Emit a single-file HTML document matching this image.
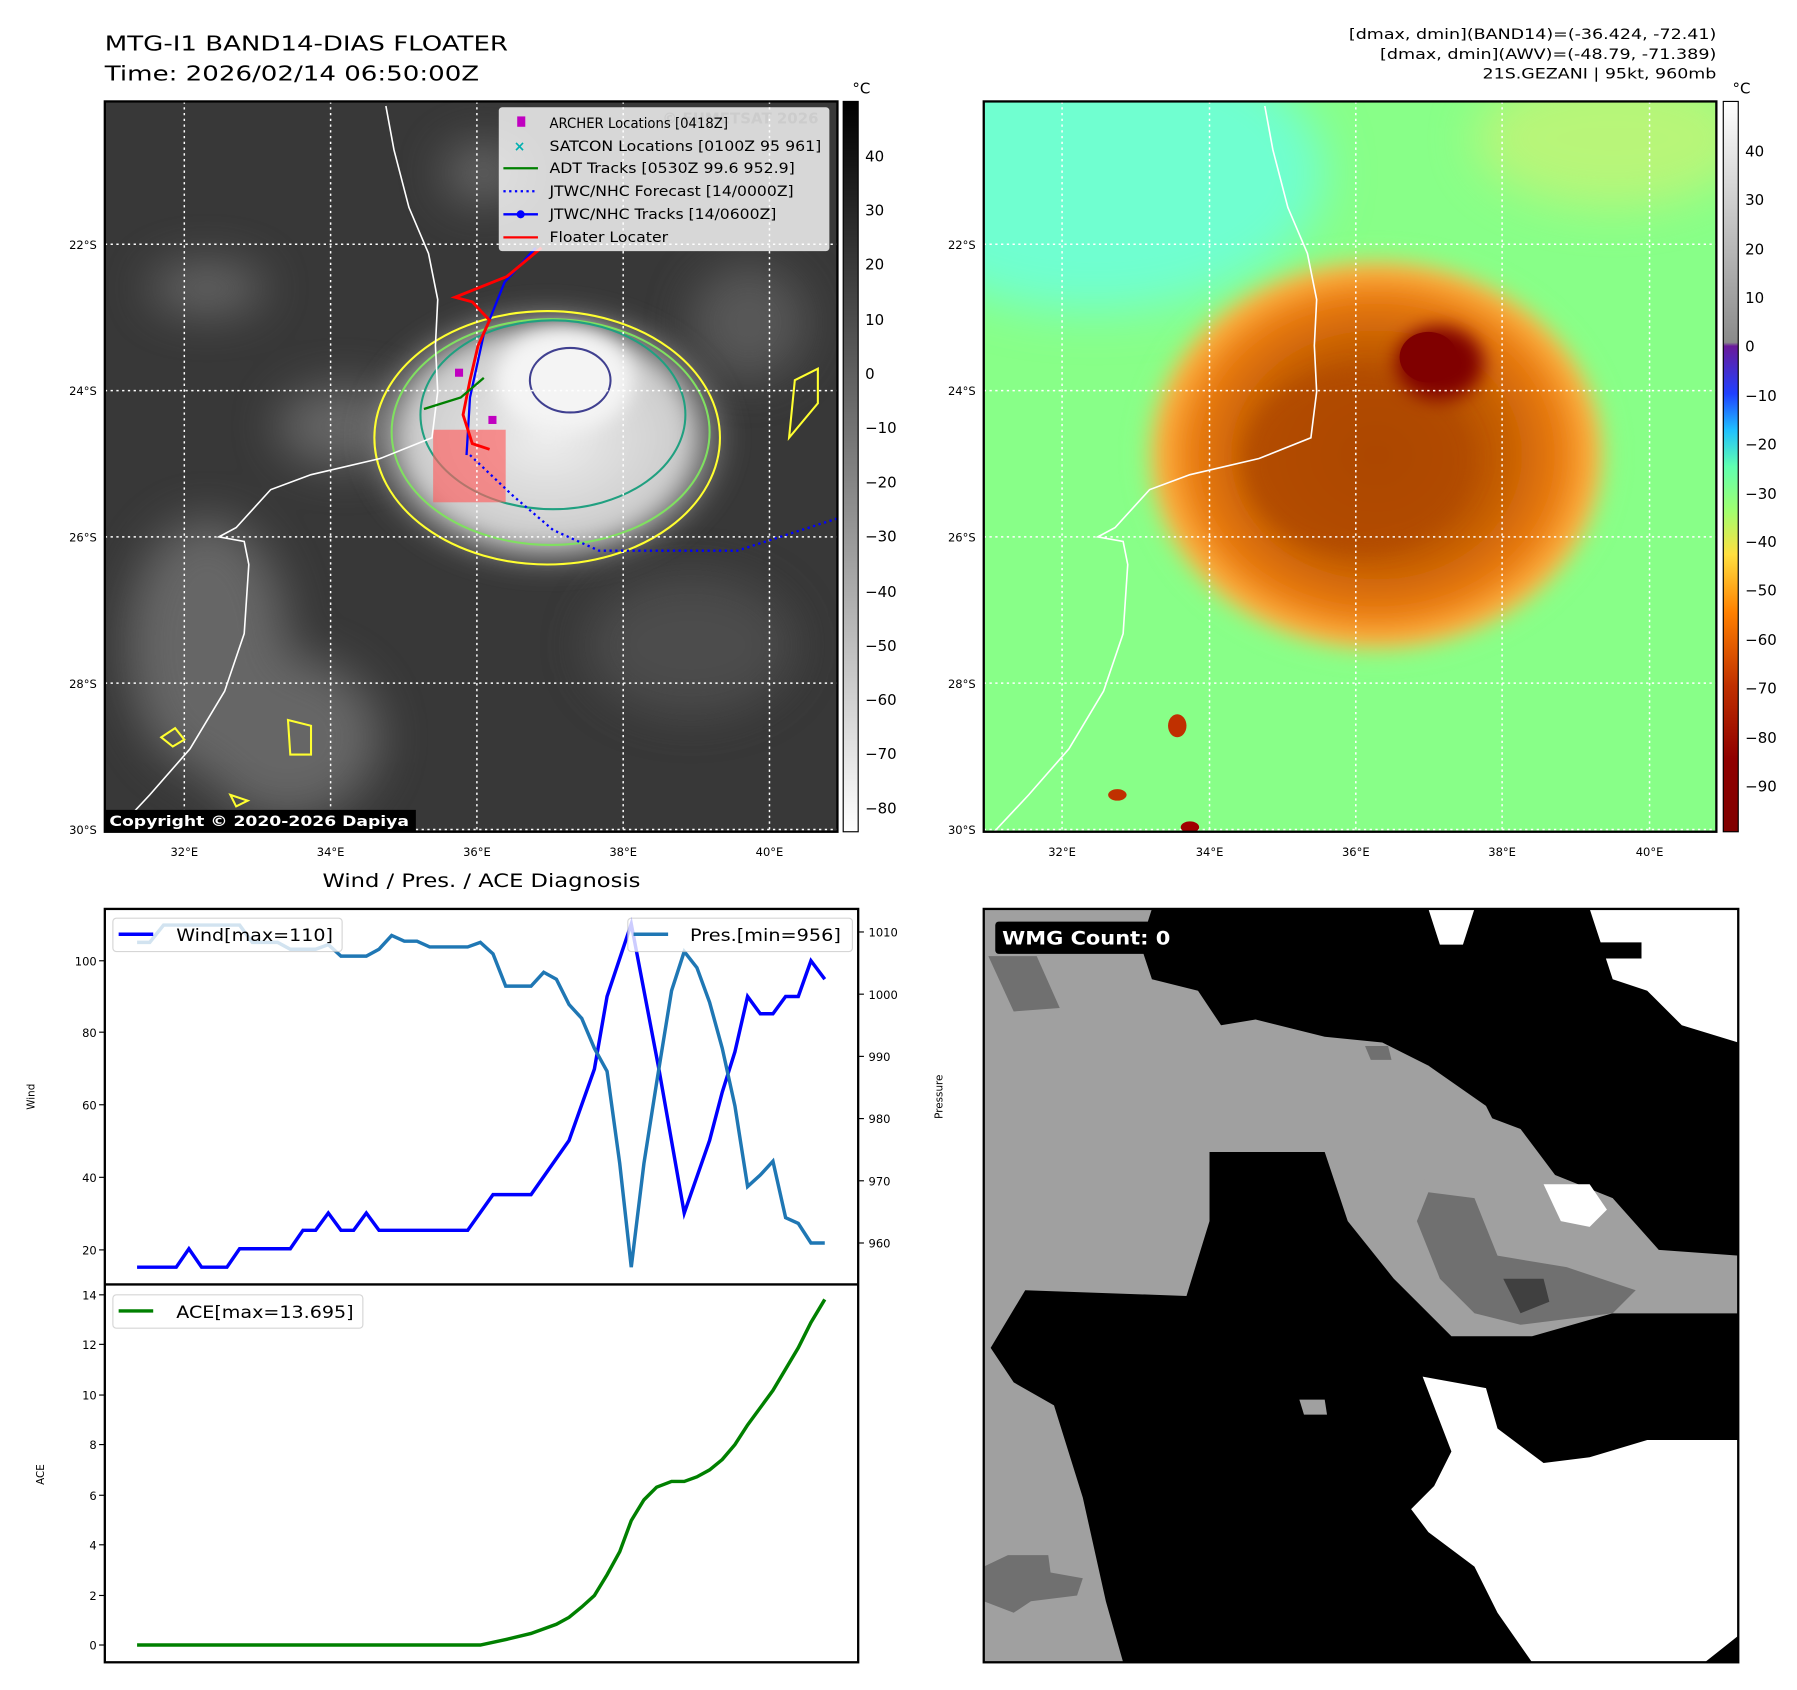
<!DOCTYPE html>
<html><head><meta charset="utf-8"><style>
html,body{margin:0;padding:0;background:#fff}
svg{display:block}
text{font-family:"DejaVu Sans","Liberation Sans",sans-serif}
</style></head><body>
<svg width="1797" height="1690" viewBox="0 0 1560 1467" xmlns="http://www.w3.org/2000/svg">
<defs>
<filter id="b8" x="-50%" y="-50%" width="200%" height="200%"><feGaussianBlur stdDeviation="8"/></filter>
<filter id="b20" x="-50%" y="-50%" width="200%" height="200%"><feGaussianBlur stdDeviation="20"/></filter>
<linearGradient id="cbL" x1="0" y1="0" x2="0" y2="1"><stop offset="0" stop-color="#000"/><stop offset="1" stop-color="#fff"/></linearGradient>
<linearGradient id="cbR" x1="0" y1="0" x2="0" y2="1">
<stop offset="0" stop-color="#fff"/><stop offset="0.33" stop-color="#8a8a8a"/>
<stop offset="0.335" stop-color="#6a1a9a"/><stop offset="0.4" stop-color="#2040ff"/>
<stop offset="0.45" stop-color="#20c0ff"/><stop offset="0.5" stop-color="#60ffb0"/>
<stop offset="0.56" stop-color="#a0ff70"/><stop offset="0.62" stop-color="#ffe040"/>
<stop offset="0.7" stop-color="#ff8000"/><stop offset="0.8" stop-color="#c03000"/>
<stop offset="0.9" stop-color="#900000"/><stop offset="1" stop-color="#800000"/></linearGradient>
<radialGradient id="storm" cx="0.5" cy="0.5" r="0.5">
<stop offset="0" stop-color="#a04000"/><stop offset="0.5" stop-color="#c05a00"/>
<stop offset="0.75" stop-color="#e87a10"/><stop offset="0.9" stop-color="#ffb040"/>
<stop offset="1" stop-color="#90ff80" stop-opacity="0"/></radialGradient>
<radialGradient id="cloud" cx="0.5" cy="0.5" r="0.5">
<stop offset="0" stop-color="#eee"/><stop offset="0.7" stop-color="#ccc"/><stop offset="1" stop-color="#555" stop-opacity="0"/></radialGradient>
<clipPath id="cl"><rect x="91" y="88" width="636" height="634"/></clipPath>
<clipPath id="cr"><rect x="854" y="88" width="636" height="634"/></clipPath>
<clipPath id="cw"><rect x="854" y="789" width="655" height="654"/></clipPath>
</defs>

<!-- Titles -->
<text x="91" y="44" font-size="18" textLength="350" lengthAdjust="spacingAndGlyphs">MTG-I1 BAND14-DIAS FLOATER</text>
<text x="91" y="70" font-size="18" textLength="325" lengthAdjust="spacingAndGlyphs">Time: 2026/02/14 06:50:00Z</text>
<g font-size="12">
<text x="1171" y="34" textLength="319" lengthAdjust="spacingAndGlyphs">[dmax, dmin](BAND14)=(-36.424, -72.41)</text>
<text x="1198" y="51" textLength="292" lengthAdjust="spacingAndGlyphs">[dmax, dmin](AWV)=(-48.79, -71.389)</text>
<text x="1287" y="68" textLength="203" lengthAdjust="spacingAndGlyphs">21S.GEZANI | 95kt, 960mb</text></g>

<!-- LEFT MAP -->
<g clip-path="url(#cl)">
<rect x="91" y="88" width="636" height="634" fill="#383838"/>
<g filter="url(#b20)" fill="#7a7a7a" opacity="0.7">
<ellipse cx="180" cy="560" rx="70" ry="110"/><ellipse cx="250" cy="640" rx="80" ry="70"/>
<ellipse cx="180" cy="250" rx="50" ry="22"/><ellipse cx="300" cy="370" rx="60" ry="35"/>
<ellipse cx="600" cy="560" rx="90" ry="60" fill="#555"/><ellipse cx="420" cy="150" rx="35" ry="25"/>
<ellipse cx="650" cy="280" rx="50" ry="50" fill="#666"/>
</g>
<ellipse cx="475" cy="380" rx="170" ry="125" fill="url(#cloud)" filter="url(#b8)"/>
<ellipse cx="490" cy="330" rx="60" ry="45" fill="#f4f4f4" filter="url(#b8)"/>
<g fill="none" stroke-width="1.8">
<ellipse cx="475" cy="380" rx="150" ry="110" stroke="#ffff30"/>
<ellipse cx="478" cy="375" rx="138" ry="98" stroke="#80e060"/>
<ellipse cx="480" cy="360" rx="115" ry="82" stroke="#20a080"/>
<ellipse cx="495" cy="330" rx="35" ry="28" stroke="#404090"/>
<path d="M140,640 l12,-8 l8,10 l-10,6z M250,625 l20,5 l0,25 l-18,0z M200,690 l15,5 l-10,5z M690,330 l20,-10 l0,30 l-25,30z" stroke="#ffff30"/>
</g>
<rect x="376" y="373" width="63" height="63" fill="#ff6060" opacity="0.65"/>
<path d="M335,92 L342,130 L355,180 L372,220 L380,260 L378,300 L380,340 L375,380 L330,398 L270,412 L235,425 L205,458 L190,466 L212,470 L216,490 L212,550 L195,600 L165,650 L130,690 L100,722" fill="none" stroke="#fff" stroke-width="1.4"/>
<g stroke="#fff" stroke-width="1.3" stroke-dasharray="2,3">
<line x1="160" y1="88" x2="160" y2="722"/><line x1="287" y1="88" x2="287" y2="722"/><line x1="414" y1="88" x2="414" y2="722"/><line x1="541" y1="88" x2="541" y2="722"/><line x1="668" y1="88" x2="668" y2="722"/>
<line x1="91" y1="212" x2="727" y2="212"/><line x1="91" y1="339" x2="727" y2="339"/><line x1="91" y1="466" x2="727" y2="466"/><line x1="91" y1="593" x2="727" y2="593"/><line x1="91" y1="720" x2="727" y2="720"/>
</g>
<path d="M408,395 L445,430 L480,460 L520,478 L640,478 L727,450" fill="none" stroke="#0000ff" stroke-width="2" stroke-dasharray="2,3"/>
<path d="M465,215 L438,245 L420,290 L408,345 L405,395" fill="none" stroke="#0000ff" stroke-width="2"/>
<path d="M470,215 L440,240 L395,258 L410,262 L425,278 L415,300 L408,330 L402,360 L410,385 L425,390" fill="none" stroke="#ff0000" stroke-width="2.5"/>
<path d="M368,355 L400,345 L420,328" fill="none" stroke="#008000" stroke-width="2"/>
<rect x="395" y="320" width="7" height="7" fill="#c000c0"/><rect x="424" y="361" width="7" height="7" fill="#c000c0"/>
<rect x="433" y="93" width="287" height="125" fill="#fff" opacity="0.8" rx="3"/>
<text x="575" y="107" font-size="13" fill="#ccc" font-weight="bold">© EUMETSAT 2026</text>
<g font-size="12">
<rect x="449" y="101" width="7" height="9" fill="#c000c0"/><text x="477" y="111" textLength="155" lengthAdjust="spacingAndGlyphs">ARCHER Locations [0418Z]</text>
<text x="446" y="131" fill="#00b0b0" font-size="12" font-weight="bold">×</text><text x="477" y="131" textLength="236" lengthAdjust="spacingAndGlyphs">SATCON Locations [0100Z 95 961]</text>
<line x1="437" y1="146" x2="467" y2="146" stroke="#008000" stroke-width="2"/><text x="477" y="150" textLength="213" lengthAdjust="spacingAndGlyphs">ADT Tracks [0530Z 99.6 952.9]</text>
<line x1="437" y1="166" x2="467" y2="166" stroke="#0000ff" stroke-width="2" stroke-dasharray="2,3"/><text x="477" y="170" textLength="212" lengthAdjust="spacingAndGlyphs">JTWC/NHC Forecast [14/0000Z]</text>
<line x1="437" y1="186" x2="467" y2="186" stroke="#0000ff" stroke-width="2"/><circle cx="452" cy="186" r="3.5" fill="#0000ff"/><text x="477" y="190" textLength="197" lengthAdjust="spacingAndGlyphs">JTWC/NHC Tracks [14/0600Z]</text>
<line x1="437" y1="206" x2="467" y2="206" stroke="#ff0000" stroke-width="2"/><text x="477" y="210" textLength="103" lengthAdjust="spacingAndGlyphs">Floater Locater</text>
</g>
<rect x="91" y="703" width="270" height="19" fill="#000"/>
<text x="95" y="717" font-size="12.5" fill="#fff" font-weight="bold" textLength="260" lengthAdjust="spacingAndGlyphs">Copyright © 2020-2026 Dapiya</text>
</g>
<rect x="91" y="88" width="636" height="634" fill="none" stroke="#000" stroke-width="2"/>

<!-- RIGHT MAP -->
<g clip-path="url(#cr)">
<rect x="854" y="88" width="636" height="634" fill="#88ff88"/>
<ellipse cx="950" cy="150" rx="200" ry="120" fill="#70ffd0" filter="url(#b20)"/>
<ellipse cx="1400" cy="120" rx="120" ry="60" fill="#d8f070" filter="url(#b20)" opacity="0.6"/>
<ellipse cx="1195" cy="395" rx="210" ry="180" fill="url(#storm)" filter="url(#b8)"/>
<ellipse cx="1180" cy="400" rx="100" ry="80" fill="#b04a00" filter="url(#b8)" opacity="0.8"/>
<ellipse cx="1250" cy="315" rx="38" ry="32" fill="#800000" filter="url(#b8)"/>
<ellipse cx="1240" cy="310" rx="25" ry="22" fill="#800000"/>
<path d="M1098,92 L1105,130 L1118,180 L1135,220 L1143,260 L1141,300 L1143,340 L1138,380 L1093,398 L1033,412 L998,425 L968,458 L953,466 L975,470 L979,490 L975,550 L958,600 L928,650 L893,690 L863,722" fill="none" stroke="#fff" stroke-width="1.4"/>
<g stroke="#fff" stroke-width="1.3" stroke-dasharray="2,3">
<line x1="922" y1="88" x2="922" y2="722"/><line x1="1050" y1="88" x2="1050" y2="722"/><line x1="1177" y1="88" x2="1177" y2="722"/><line x1="1304" y1="88" x2="1304" y2="722"/><line x1="1432" y1="88" x2="1432" y2="722"/>
<line x1="854" y1="212" x2="1490" y2="212"/><line x1="854" y1="339" x2="1490" y2="339"/><line x1="854" y1="466" x2="1490" y2="466"/><line x1="854" y1="593" x2="1490" y2="593"/><line x1="854" y1="720" x2="1490" y2="720"/>
</g>
<ellipse cx="1022" cy="630" rx="8" ry="10" fill="#c03000"/><ellipse cx="970" cy="690" rx="8" ry="5" fill="#c03000"/><ellipse cx="1033" cy="718" rx="8" ry="5" fill="#a00000"/>
</g>
<rect x="854" y="88" width="636" height="634" fill="none" stroke="#000" stroke-width="2"/>

<!-- map ticks -->
<g font-size="10" text-anchor="middle">
<text x="160" y="743">32°E</text><text x="287" y="743">34°E</text><text x="414" y="743">36°E</text><text x="541" y="743">38°E</text><text x="668" y="743">40°E</text>
<text x="922" y="743">32°E</text><text x="1050" y="743">34°E</text><text x="1177" y="743">36°E</text><text x="1304" y="743">38°E</text><text x="1432" y="743">40°E</text>
</g>
<g font-size="10" text-anchor="end">
<text x="84" y="216">22°S</text><text x="84" y="343">24°S</text><text x="84" y="470">26°S</text><text x="84" y="597">28°S</text><text x="84" y="724">30°S</text>
<text x="847" y="216">22°S</text><text x="847" y="343">24°S</text><text x="847" y="470">26°S</text><text x="847" y="597">28°S</text><text x="847" y="724">30°S</text>
</g>

<!-- colorbars -->
<rect x="732" y="88" width="13" height="634" fill="url(#cbL)" stroke="#000"/>
<text x="740" y="81" font-size="13">°C</text>
<g font-size="13">
<text x="751" y="140">40</text><text x="751" y="187">30</text><text x="751" y="234">20</text><text x="751" y="282">10</text><text x="751" y="329">0</text>
<text x="751" y="376">−10</text><text x="751" y="423">−20</text><text x="751" y="470">−30</text><text x="751" y="518">−40</text><text x="751" y="565">−50</text><text x="751" y="612">−60</text><text x="751" y="659">−70</text><text x="751" y="706">−80</text>
</g>
<rect x="1496" y="88" width="13" height="634" fill="url(#cbR)" stroke="#000"/>
<text x="1504" y="81" font-size="13">°C</text>
<g font-size="13">
<text x="1515" y="136">40</text><text x="1515" y="178">30</text><text x="1515" y="221">20</text><text x="1515" y="263">10</text><text x="1515" y="305">0</text>
<text x="1515" y="348">−10</text><text x="1515" y="390">−20</text><text x="1515" y="433">−30</text><text x="1515" y="475">−40</text><text x="1515" y="517">−50</text><text x="1515" y="560">−60</text><text x="1515" y="602">−70</text><text x="1515" y="645">−80</text><text x="1515" y="687">−90</text>
</g>

<!-- BOTTOM LEFT -->
<text x="280" y="770" font-size="16" textLength="276" lengthAdjust="spacingAndGlyphs">Wind / Pres. / ACE Diagnosis</text>
<rect x="91" y="789" width="654" height="654" fill="#fff" stroke="#000" stroke-width="2"/>
<line x1="91" y1="1115" x2="745" y2="1115" stroke="#000" stroke-width="2"/>
<polyline fill="none" stroke="#0000ff" stroke-width="3" points="119,1100 153,1100 164,1084 175,1100 197,1100 208,1084 252,1084 263,1068 274,1068 285,1053 296,1068 307,1068 318,1053 329,1068 406,1068 428,1037 461,1037 494,990 516,928 527,865 548,802 572,928 594,1053 616,990 627,948 638,913 649,865 660,880 671,880 682,865 693,865 704,834 716,850"/>
<polyline fill="none" stroke="#1f77b4" stroke-width="3" points="119,818 130,818 142,803 208,803 219,818 241,818 252,824 274,824 285,820 296,830 318,830 329,824 340,812 351,817 362,817 373,822 406,822 417,818 428,828 439,856 461,856 472,844 483,850 494,872 505,884 516,910 527,930 538,1010 548,1100 559,1010 570,940 583,860 594,826 605,840 616,870 627,910 638,960 649,1030 660,1020 671,1008 682,1057 693,1062 704,1079 716,1079"/>
<rect x="98" y="797" width="199" height="29" fill="#fff" opacity="0.8" stroke="#ccc" rx="3"/>
<line x1="103" y1="811" x2="133" y2="811" stroke="#0000ff" stroke-width="3"/>
<text x="153" y="817" font-size="15" textLength="136" lengthAdjust="spacingAndGlyphs">Wind[max=110]</text>
<rect x="545" y="797" width="195" height="29" fill="#fff" opacity="0.8" stroke="#ccc" rx="3"/>
<line x1="550" y1="811" x2="580" y2="811" stroke="#1f77b4" stroke-width="3"/>
<text x="599" y="817" font-size="15" textLength="131" lengthAdjust="spacingAndGlyphs">Pres.[min=956]</text>
<g font-size="10" text-anchor="end">
<text x="84" y="1089">20</text><text x="84" y="1026">40</text><text x="84" y="963">60</text><text x="84" y="900">80</text><text x="84" y="838">100</text>
</g>
<g stroke="#000"><line x1="86" y1="1085" x2="91" y2="1085"/><line x1="86" y1="1022" x2="91" y2="1022"/><line x1="86" y1="959" x2="91" y2="959"/><line x1="86" y1="896" x2="91" y2="896"/><line x1="86" y1="834" x2="91" y2="834"/>
<line x1="745" y1="809" x2="750" y2="809"/><line x1="745" y1="863" x2="750" y2="863"/><line x1="745" y1="917" x2="750" y2="917"/><line x1="745" y1="971" x2="750" y2="971"/><line x1="745" y1="1025" x2="750" y2="1025"/><line x1="745" y1="1079" x2="750" y2="1079"/></g>
<g font-size="10"><text x="754" y="813">1010</text><text x="754" y="867">1000</text><text x="754" y="921">990</text><text x="754" y="975">980</text><text x="754" y="1029">970</text><text x="754" y="1083">960</text></g>
<text transform="translate(30,952) rotate(-90)" font-size="9" text-anchor="middle">Wind</text>
<text transform="translate(818,952) rotate(-90)" font-size="9" text-anchor="middle">Pressure</text>
<polyline fill="none" stroke="#008000" stroke-width="3" points="119,1428 417,1428 440,1423 461,1418 483,1410 494,1404 505,1395 516,1385 527,1367 538,1347 548,1320 559,1302 570,1291 583,1286 594,1286 605,1282 616,1276 627,1267 638,1254 649,1237 671,1207 693,1170 704,1148 716,1128"/>
<rect x="98" y="1124" width="217" height="29" fill="#fff" opacity="0.8" stroke="#ccc" rx="3"/>
<line x1="103" y1="1138" x2="133" y2="1138" stroke="#008000" stroke-width="3"/>
<text x="153" y="1144" font-size="15" textLength="154" lengthAdjust="spacingAndGlyphs">ACE[max=13.695]</text>
<g font-size="10" text-anchor="end">
<text x="84" y="1432">0</text><text x="84" y="1389">2</text><text x="84" y="1345">4</text><text x="84" y="1302">6</text><text x="84" y="1258">8</text><text x="84" y="1215">10</text><text x="84" y="1171">12</text><text x="84" y="1128">14</text>
</g>
<g stroke="#000"><line x1="86" y1="1428" x2="91" y2="1428"/><line x1="86" y1="1385" x2="91" y2="1385"/><line x1="86" y1="1341" x2="91" y2="1341"/><line x1="86" y1="1298" x2="91" y2="1298"/><line x1="86" y1="1254" x2="91" y2="1254"/><line x1="86" y1="1211" x2="91" y2="1211"/><line x1="86" y1="1167" x2="91" y2="1167"/><line x1="86" y1="1124" x2="91" y2="1124"/></g>
<text transform="translate(38,1280) rotate(-90)" font-size="9" text-anchor="middle">ACE</text>

<!-- WMG -->
<g clip-path="url(#cw)">
<rect x="854" y="789" width="655" height="654" fill="#a0a0a0"/>
<polygon fill="#000" points="1000,789 1509,789 1509,1090 1440,1085 1400,1040 1350,1020 1320,980 1280,965 1240,925 1200,905 1150,900 1090,885 1060,890 1040,860 1000,850 990,820"/>
<polygon fill="#a0a0a0" points="1080,890 1240,925 1290,960 1310,1000 1260,1010 1200,1000 1150,990 1100,1000 1070,960"/>
<polygon fill="#000" points="890,1120 1030,1125 1050,1060 1050,1000 1150,1000 1180,1050 1210,1080 1230,1110 1260,1150 1400,1140 1509,1140 1509,1443 975,1443 960,1390 940,1300 915,1220 880,1200 860,1170"/>
<polygon fill="#a0a0a0" points="1150,1000 1230,1020 1300,1060 1380,1090 1509,1090 1509,1140 1400,1140 1330,1160 1260,1160 1210,1110 1170,1060"/>
<polygon fill="#707070" points="1240,1035 1280,1040 1300,1090 1360,1100 1420,1120 1400,1140 1320,1150 1280,1140 1250,1110 1230,1060"/>
<polygon fill="#404040" points="1305,1110 1340,1110 1345,1130 1320,1140"/>
<polygon fill="#fff" points="1235,1195 1290,1205 1300,1240 1340,1270 1380,1265 1430,1250 1509,1250 1509,1420 1480,1443 1330,1443 1300,1400 1280,1360 1240,1330 1225,1310 1245,1290 1260,1260"/>
<polygon fill="#fff" points="1340,1028 1380,1028 1395,1050 1380,1065 1355,1060"/>
<polygon fill="#fff" points="1380,789 1509,789 1509,905 1460,890 1430,860 1400,850"/>
<polygon fill="#fff" points="1240,789 1280,789 1270,820 1250,820"/>
<polygon fill="#000" points="1385,818 1425,818 1425,832 1390,832"/>
<polygon fill="#707070" points="858,830 900,830 920,875 880,878"/>
<polygon fill="#707070" points="875,1350 910,1350 912,1365 940,1370 935,1385 895,1390 880,1400 854,1390 854,1360"/>
<polygon fill="#707070" points="1185,908 1205,908 1208,920 1190,920"/>
<polygon fill="#a0a0a0" points="1128,1215 1150,1215 1152,1228 1132,1228"/>
</g>
<rect x="854" y="789" width="655" height="654" fill="none" stroke="#000" stroke-width="2"/>
<rect x="864" y="800" width="158" height="28" fill="#000" rx="3"/>
<text x="870" y="820" font-size="16" fill="#fff" font-weight="bold" textLength="146" lengthAdjust="spacingAndGlyphs">WMG Count: 0</text>
</svg>
</body></html>
